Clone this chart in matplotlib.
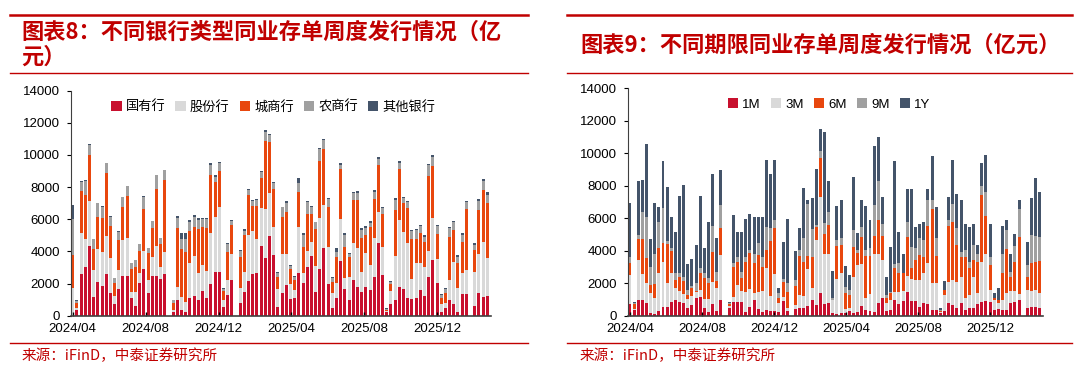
import datetime as dt
import numpy as np
import matplotlib
matplotlib.use("Agg")
import matplotlib.pyplot as plt
from matplotlib.lines import Line2D

plt.rcParams['font.family'] = ['Liberation Sans', 'Noto Sans CJK SC', 'DejaVu Sans']

# weekly issuance, 100 weeks from 2024/04 (0 = no data that week)
# left chart: by bank type (亿元)
soe = [0, 350, 2570, 3000, 4350, 1140, 2070, 1870, 2570, 1390, 725, 1660, 2490, 2490, 1080, 620, 2010, 2900, 1390, 2490,
       2490, 2260, 2590, 0, 200, 970, 350, 250, 1080, 1220, 970, 1550, 1080, 1970, 2740, 2740, 560, 1290, 2220, 0,
       810, 1490, 2160, 2570, 2670, 4350, 3610, 4980, 3770, 560, 1390, 1910, 1040, 1120, 2670, 2010, 3010, 3710, 1490, 2900,
       4190, 1970, 460, 1080, 3400, 1640, 970, 2220, 1800, 1490, 1800, 1600, 2430, 4540, 2530, 200, 730, 1000, 1800, 1660,
       1130, 1040, 1100, 1600, 1200, 2400, 3450, 2050, 230, 480, 1000, 750, 200, 1350, 1350, 0, 620, 1390, 1140, 1220]
joint = [1700, 100, 2550, 1750, 2800, 1700, 2100, 2070, 2380, 2210, 495, 1180, 2210, 2360, 410, 870, 660, 1120, 830, 1180,
         1860, 790, 1350, 0, 150, 830, 830, 620, 2220, 2510, 1660, 1600, 1720, 3150, 3380, 4040, 410, 930, 1610, 0,
         890, 1250, 2860, 2700, 2100, 2330, 3000, 2670, 1760, 1080, 2440, 1920, 930, 480, 2860, 620, 1010, 850, 1620, 3150,
         2690, 2320, 930, 930, 2590, 680, 1460, 2320, 2390, 1250, 2100, 1550, 2380, 1930, 1770, 80, 830, 2700, 4150, 3560,
         3370, 1240, 2200, 1700, 1800, 1600, 2650, 1450, 500, 300, 1200, 2600, 1500, 1300, 1500, 0, 2120, 2440, 3460, 2340]
city = [2050, 350, 2630, 2750, 2820, 1290, 1990, 2160, 3920, 2000, 790, 1860, 2040, 2590, 1390, 1510, 1350, 2610, 1660, 1800,
        3510, 1410, 4500, 0, 450, 3670, 2940, 3110, 1990, 1800, 2760, 2380, 2630, 3630, 2210, 2240, 580, 1760, 1810, 0,
        1930, 2280, 2480, 1570, 2070, 1900, 4250, 3150, 2330, 790, 2330, 2640, 930, 620, 2180, 1660, 2300, 1740, 2280, 3570,
        3490, 2490, 720, 1660, 3110, 1970, 1200, 2650, 3000, 2070, 1100, 2340, 2450, 2900, 2000, 100, 400, 2900, 3170, 1770,
        2200, 2500, 1500, 1850, 1600, 4700, 3200, 1600, 400, 650, 2700, 2000, 1600, 1950, 3800, 0, 1340, 2740, 3220, 3430]
rural = [2250, 120, 580, 880, 640, 620, 830, 680, 600, 560, 310, 520, 620, 620, 370, 460, 440, 770, 310, 420,
         890, 350, 620, 0, 170, 630, 680, 770, 560, 630, 560, 460, 560, 620, 320, 500, 110, 480, 260, 0,
         410, 270, 320, 290, 350, 380, 580, 440, 370, 200, 580, 520, 210, 210, 560, 730, 770, 440, 410, 720,
         550, 450, 210, 310, 270, 730, 210, 420, 420, 530, 450, 300, 420, 380, 380, 50, 150, 600, 400, 330,
         370, 460, 500, 400, 300, 650, 550, 450, 150, 200, 540, 460, 350, 430, 400, 0, 330, 560, 530, 540]
others = [900, 50, 50, 40, 60, 20, 20, 20, 30, 20, 20, 20, 30, 20, 20, 20, 20, 20, 20, 20,
          20, 20, 20, 0, 20, 70, 350, 400, 100, 100, 100, 110, 70, 100, 100, 60, 40, 40, 50, 0,
          40, 80, 60, 60, 40, 60, 110, 60, 80, 70, 40, 120, 40, 60, 310, 100, 60, 80, 50, 110,
          70, 70, 110, 210, 150, 140, 80, 100, 140, 120, 150, 120, 150, 120, 60, 20, 50, 110, 100, 80,
          80, 100, 100, 90, 90, 110, 120, 90, 100, 100, 100, 100, 100, 100, 100, 0, 100, 120, 140, 130]

# right chart: by tenor (亿元)
m1 = [720, 350, 960, 960, 800, 140, 100, 310, 550, 550, 860, 960, 860, 760, 490, 640, 1070, 1170, 450, 250,
      720, 310, 960, 0, 500, 860, 860, 860, 250, 510, 960, 390, 250, 350, 310, 310, 200, 900, 310, 0,
      390, 450, 450, 600, 960, 660, 1370, 720, 800, 140, 80, 150, 150, 290, 150, 250, 600, 350, 290, 200,
      800, 1110, 290, 350, 960, 700, 900, 1480, 900, 900, 550, 760, 700, 350, 350, 150, 290, 800, 660, 450,
      800, 350, 450, 450, 720, 860, 920, 860, 350, 390, 350, 350, 760, 860, 960, 0, 490, 550, 510, 450]
m3 = [1780, 80, 2460, 1600, 1200, 1270, 970, 2330, 2770, 1480, 1780, 720, 680, 570, 510, 590, 410, 410, 580, 750,
      1370, 1370, 2770, 0, 100, 310, 1030, 680, 1230, 1110, 450, 1090, 1290, 2560, 900, 2250, 600, 270, 180, 0,
      270, 820, 780, 2300, 720, 3990, 5950, 3110, 3000, 830, 2150, 2500, 250, 200, 2250, 2860, 2580, 720, 1020, 3630,
      3030, 2310, 500, 610, 500, 780, 640, 960, 1330, 1290, 1640, 1840, 2560, 1680, 1640, 100, 980, 1290, 1530, 1640,
      1600, 720, 820, 1950, 650, 2460, 2910, 720, 610, 370, 610, 1020, 780, 680, 400, 0, 1090, 990, 1070, 920]
m6 = [760, 300, 1280, 2140, 1530, 480, 880, 1500, 1130, 2380, 1340, 510, 860, 820, 270, 490, 60, 1020, 1270, 1000,
      1850, 470, 1640, 0, 150, 1840, 1430, 760, 1840, 2250, 1810, 2250, 1470, 1130, 3400, 2810, 270, 920, 990, 0,
      1190, 2420, 2090, 800, 1950, 820, 2420, 1230, 1800, 0, 2050, 1700, 1000, 800, 1800, 760, 1680, 2600, 2360, 1070,
      2050, 1500, 300, 410, 1500, 1160, 1100, 2420, 680, 1230, 1540, 1030, 2270, 4510, 1680, 50, 310, 3440, 3590, 2260,
      1230, 2560, 1640, 1020, 1950, 4100, 2300, 1530, 100, 200, 1640, 2710, 860, 1780, 3500, 0, 820, 1720, 1740, 1990]
m9 = [370, 30, 260, 1700, 2520, 1120, 1880, 1640, 2210, 200, 200, 410, 200, 250, 310, 130, 450, 310, 300, 300,
      1570, 560, 1440, 0, 40, 210, 310, 410, 310, 170, 610, 760, 620, 1430, 820, 510, 300, 140, 510, 0,
      340, 350, 1440, 3200, 1680, 100, 410, 620, 800, 100, 410, 450, 350, 300, 1070, 160, 610, 370, 470, 1900,
      2420, 700, 200, 100, 200, 580, 0, 920, 1330, 720, 1030, 1060, 1580, 570, 1090, 50, 0, 380, 1070, 1020,
      300, 410, 410, 930, 510, 550, 1500, 520, 0, 0, 1230, 1190, 300, 1000, 1700, 0, 710, 1700, 1600, 1500]
y1 = [3320, 100, 3340, 1980, 4550, 1690, 3120, 920, 2850, 3320, 1910, 2570, 4780, 5640, 1580, 1640, 2360, 4470, 1580, 3480,
      3200, 2050, 2190, 0, 70, 2970, 1540, 2460, 2320, 2250, 2220, 1600, 2420, 4100, 3320, 3690, 310, 2280, 3960, 0,
      1810, 1330, 3130, 210, 1910, 3490, 1370, 5600, 1910, 1680, 2050, 2350, 1330, 910, 3280, 1070, 1680, 2720, 1740, 3630,
      2710, 1700, 1110, 2770, 6350, 1950, 1190, 2050, 3550, 1330, 860, 1090, 680, 2710, 1940, 100, 550, 1370, 2720, 2150,
      3180, 1600, 2150, 1270, 520, 1430, 2250, 1990, 310, 720, 1680, 610, 1070, 740, 590, 0, 1400, 2260, 3530, 2770]

left_names = ['国有行', '股份行', '城商行', '农商行', '其他银行']
right_names = ['1M', '3M', '6M', '9M', '1Y']
tick_labels = ['2024/04', '2024/08', '2024/12', '2025/04', '2025/08', '2025/12']

colors = ['#C8102E', '#D9D9D9', '#E8470E', '#A0A0A0', '#44546A']
red = '#C00000'

start = dt.date(2024, 4, 1)
tick_dates = [dt.date(2024, 4, 1), dt.date(2024, 8, 1), dt.date(2024, 12, 1),
              dt.date(2025, 4, 1), dt.date(2025, 8, 1), dt.date(2025, 12, 1)]
tick_pos = [(d - start).days / 7 for d in tick_dates]

fig = plt.figure(figsize=(10.8, 3.69), dpi=100)
axL = fig.add_axes([0.0656, 0.1444, 0.3887, 0.6103])
axR = fig.add_axes([0.5815, 0.1444, 0.3843, 0.6163])


def stacked(ax, series, names):
    x = np.arange(len(series[0]))
    bottom = np.zeros(len(x))
    for vals, name, c in zip(series, names, colors):
        v = np.array(vals, dtype=float)
        ax.bar(x, v, 0.72, bottom=bottom, color=c, label=name, linewidth=0)
        bottom += v
    ax.set_xlim(-0.45, 99.8)
    ax.set_ylim(0, 14000)
    ax.set_yticks(np.arange(0, 14001, 2000))
    ax.tick_params(axis='y', labelsize=9.5, length=3, width=0.8, colors='black', pad=5)
    ax.set_xticks(tick_pos)
    ax.set_xticklabels(tick_labels, fontsize=9.5)
    ax.tick_params(axis='x', length=3, width=1, direction='in', pad=5)
    for s in ['top', 'right']:
        ax.spines[s].set_visible(False)
    ax.spines['left'].set_color('#404040')
    ax.spines['bottom'].set_color('#404040')
    ax.spines['bottom'].set_linewidth(1.2)


stacked(axL, [soe, joint, city, rural, others], left_names)
stacked(axR, [m1, m3, m6, m9, y1], right_names)

axL.legend(loc='upper left', bbox_to_anchor=(0.068, 1.01), ncol=5, frameon=False, fontsize=9.5,
           handlelength=0.8, handleheight=0.8, handletextpad=0.3, columnspacing=0.75)
axR.legend(loc='upper left', bbox_to_anchor=(0.212, 1.01), ncol=5, frameon=False, fontsize=9.5,
           handlelength=0.8, handleheight=0.8, handletextpad=0.3, columnspacing=0.75)

# header / footer decoration
for x0, x1 in [(0.009, 0.489), (0.525, 0.993)]:
    fig.add_artist(Line2D([x0, x1], [0.959, 0.959], color=red, lw=1.8))
    fig.add_artist(Line2D([x0, x1], [0.802, 0.802], color=red, lw=1.0))
    fig.add_artist(Line2D([x0, x1], [0.071, 0.071], color=red, lw=1.0))

fig.text(0.02, 0.945, '图表8：不同银行类型同业存单周度发行情况（亿\n元）', color=red, fontsize=16,
         fontweight='bold', va='top', linespacing=1.15, family=['Noto Sans CJK SC', 'DejaVu Sans'])
fig.text(0.537, 0.878, '图表9：不同期限同业存单周度发行情况（亿元）', color=red, fontsize=16,
         fontweight='bold', va='center', family=['Noto Sans CJK SC', 'DejaVu Sans'])
fig.text(0.02, 0.035, '来源：iFinD，中泰证券研究所', color=red, fontsize=10.5, va='center',
         family=['Noto Sans CJK SC', 'DejaVu Sans'])
fig.text(0.537, 0.035, '来源：iFinD，中泰证券研究所', color=red, fontsize=10.5, va='center',
         family=['Noto Sans CJK SC', 'DejaVu Sans'])

fig.savefig('out.png', dpi=100)
